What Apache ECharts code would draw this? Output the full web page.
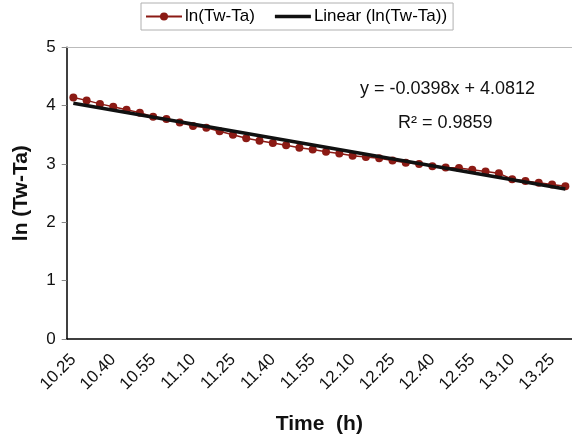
<!DOCTYPE html>
<html><head><meta charset="utf-8">
<script src="https://cdn.jsdelivr.net/npm/echarts@6/dist/echarts.min.js"></script>
<style>html,body{margin:0;padding:0;background:#fff}#c{width:572px;height:440px}</style>
</head><body><div id="c"></div>
<script>
var categories = ['10.25','10.30','10.35','10.40','10.45','10.50','10.55','11.00','11.05','11.10',
  '11.15','11.20','11.25','11.30','11.35','11.40','11.45','11.50','11.55','12.00',
  '12.05','12.10','12.15','12.20','12.25','12.30','12.35','12.40','12.45','12.50',
  '12.55','13.00','13.05','13.10','13.15','13.20','13.25','13.30'];
var lnValues = [4.14,4.09,4.03,3.98,3.93,3.88,3.81,3.77,3.71,3.65,
  3.62,3.56,3.50,3.44,3.40,3.36,3.32,3.28,3.25,3.21,
  3.18,3.14,3.12,3.10,3.06,3.02,3.00,2.96,2.94,2.93,
  2.90,2.87,2.84,2.74,2.71,2.68,2.65,2.62];
var trendX = ['10.25','13.30'];
var trendY = [4.04, 2.57];
var yTicks = [0,1,2,3,4,5];
var eqText = 'y = -0.0398x + 4.0812';
var r2Text = 'R² = 0.9859';

var font = 'Liberation Sans, Arial, Helvetica, sans-serif';
var chart = echarts.init(document.getElementById('c'), null, {renderer:'canvas'});
chart.setOption({
  animation:false,
  textStyle:{fontFamily:font},
  legend:{
    left:141, top:3, padding:[5,6,5,4], itemGap:20, itemWidth:36, itemHeight:10,
    borderColor:'#b0b0b0', borderWidth:1,
    textStyle:{fontSize:17, color:'#000', fontFamily:font, padding:[0,0,0,-2]},
    data:[
      {name:'ln(Tw-Ta)'},
      {name:'Linear (ln(Tw-Ta))', icon:'path://M0,0L36,0L36,3.5L0,3.5Z', itemStyle:{color:'#111'}}
    ]
  },
  grid:{left:66.7, right:-1.3, top:47.3, bottom:90},
  xAxis:[{
    type:'category', data:categories, boundaryGap:true,
    name:'Time  (h)', nameLocation:'middle', nameGap:75,
    nameTextStyle:{fontSize:21, fontWeight:'bold', color:'#111', fontFamily:font},
    axisLine:{lineStyle:{color:'#000', width:1.5}},
    axisTick:{interval:1, length:5, lineStyle:{color:'#888'}},
    axisLabel:{interval:2, rotate:45, margin:18, fontSize:17, color:'#111', fontFamily:font},
    splitLine:{show:false}
  },{
    type:'category', data:categories, position:'top',
    axisLine:{onZero:false, lineStyle:{color:'#bbb', width:1}},
    axisTick:{show:false}, axisLabel:{show:false}, splitLine:{show:false}
  }],
  yAxis:{
    type:'value', min:yTicks[0], max:yTicks[yTicks.length-1], interval:1,
    name:'ln (Tw-Ta)', nameLocation:'middle', nameGap:35, nameRotate:90,
    nameTextStyle:{fontSize:21, fontWeight:'bold', color:'#111', fontFamily:font},
    axisLine:{show:true, lineStyle:{color:'#000', width:1.5}},
    axisTick:{show:true, length:5, lineStyle:{color:'#888'}},
    axisLabel:{margin:11, fontSize:17, color:'#111', fontFamily:font},
    splitLine:{show:false}
  },
  series:[{
    name:'ln(Tw-Ta)', type:'line', data:lnValues,
    symbol:'circle', symbolSize:8, z:2,
    itemStyle:{color:'#8b1a14'}, lineStyle:{color:'#8b1a14', width:1.5}
  },{
    name:'Linear (ln(Tw-Ta))', type:'line', symbol:'none', z:3,
    data:trendX.map(function(x,i){return [x, trendY[i]];}),
    itemStyle:{color:'#111'}, lineStyle:{color:'#111', width:3.5}
  }],
  graphic:[
    {type:'text', left:360, top:80, style:{text:eqText, fontSize:18, fontFamily:font, fill:'#111'}},
    {type:'text', left:398, top:114, style:{text:r2Text, fontSize:18, fontFamily:font, fill:'#111'}}
  ]
});
</script></body></html>
